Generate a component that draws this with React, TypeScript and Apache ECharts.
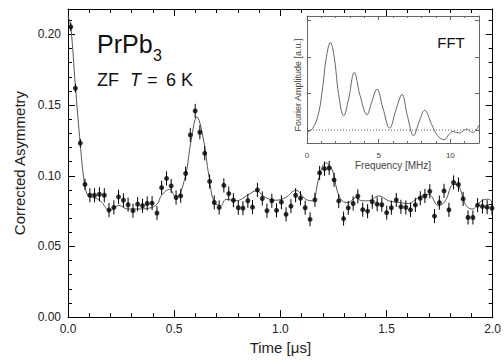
import React, { useEffect, useRef } from "react";
import * as echarts from "echarts";

// Main data: time [μs], corrected asymmetry, error
const times = [
  0.013, 0.035, 0.058, 0.080, 0.103, 0.125, 0.148, 0.171, 0.193, 0.216,
  0.238, 0.261, 0.283, 0.306, 0.328, 0.351, 0.373, 0.396, 0.419, 0.441,
  0.464, 0.486, 0.509, 0.531, 0.554, 0.576, 0.599, 0.621, 0.644, 0.667,
  0.689, 0.712, 0.734, 0.757, 0.779, 0.802, 0.824, 0.847, 0.869, 0.892,
  0.915, 0.937, 0.960, 0.982, 1.005, 1.027, 1.050, 1.072, 1.095, 1.117,
  1.140, 1.163, 1.185, 1.208, 1.230, 1.253, 1.275, 1.298, 1.320, 1.343,
  1.365, 1.388, 1.411, 1.433, 1.456, 1.478, 1.501, 1.523, 1.546, 1.568,
  1.591, 1.613, 1.636, 1.659, 1.681, 1.704, 1.726, 1.749, 1.771, 1.794,
  1.816, 1.839, 1.861, 1.884, 1.907, 1.929, 1.952, 1.974, 1.997,
];
const asymmetry = [
  0.2054, 0.1619, 0.1231, 0.0939, 0.0862, 0.0862, 0.0869, 0.0862, 0.0757, 0.0776,
  0.0851, 0.0827, 0.0795, 0.0753, 0.0799, 0.0788, 0.0804, 0.0806, 0.0736, 0.0916,
  0.0981, 0.0928, 0.0846, 0.0858, 0.1016, 0.1289, 0.1459, 0.1308, 0.1159, 0.0960,
  0.0811, 0.0776, 0.0932, 0.0874, 0.0827, 0.0774, 0.0771, 0.0823, 0.0778, 0.0900,
  0.0839, 0.0753, 0.0823, 0.0755, 0.0813, 0.0727, 0.0785, 0.0862, 0.0841, 0.0774,
  0.0692, 0.0830, 0.1020, 0.1050, 0.1055, 0.0971, 0.0822, 0.0697, 0.0773, 0.0804,
  0.0855, 0.0760, 0.0750, 0.0816, 0.0799, 0.0795, 0.0739, 0.0774, 0.0829, 0.0780,
  0.0776, 0.0759, 0.0794, 0.0841, 0.0857, 0.0890, 0.0715, 0.0810, 0.0893, 0.0759,
  0.0953, 0.0938, 0.0836, 0.0705, 0.0705, 0.0792, 0.0783, 0.0778, 0.0771,
];
const errors = [
  0.003, 0.003, 0.003, 0.004, 0.005, 0.005, 0.005, 0.005, 0.005, 0.005,
  0.005, 0.005, 0.005, 0.005, 0.005, 0.005, 0.005, 0.005, 0.005, 0.005,
  0.005, 0.005, 0.005, 0.005, 0.005, 0.005, 0.005, 0.005, 0.005, 0.005,
  0.005, 0.005, 0.005, 0.005, 0.005, 0.005, 0.005, 0.005, 0.005, 0.005,
  0.005, 0.005, 0.005, 0.005, 0.005, 0.005, 0.005, 0.005, 0.005, 0.005,
  0.005, 0.005, 0.005, 0.005, 0.005, 0.005, 0.005, 0.005, 0.005, 0.005,
  0.005, 0.005, 0.005, 0.005, 0.005, 0.005, 0.005, 0.005, 0.005, 0.005,
  0.005, 0.005, 0.005, 0.005, 0.005, 0.005, 0.005, 0.005, 0.005, 0.005,
  0.005, 0.005, 0.005, 0.005, 0.005, 0.005, 0.005, 0.005, 0.005,
];

// Fit curve
const fitTimes = [
  0.0, 0.013, 0.035, 0.058, 0.075, 0.09, 0.11, 0.14, 0.16, 0.195,
  0.24, 0.28, 0.33, 0.38, 0.42, 0.44, 0.478, 0.509, 0.55, 0.58,
  0.607, 0.635, 0.665, 0.689, 0.72, 0.744, 0.79, 0.853, 0.885, 0.931,
  0.978, 1.025, 1.072, 1.119, 1.15, 1.182, 1.213, 1.244, 1.268, 1.291,
  1.322, 1.354, 1.385, 1.416, 1.463, 1.51, 1.557, 1.604, 1.651, 1.698,
  1.745, 1.777, 1.815, 1.839, 1.871, 1.902, 1.948, 1.98, 2.0,
];
const fitValues = [
  0.213, 0.2055, 0.163, 0.122, 0.097, 0.087, 0.085, 0.0835, 0.081, 0.0755,
  0.079, 0.0765, 0.0765, 0.077, 0.080, 0.086, 0.0904, 0.0846, 0.098, 0.125,
  0.1417, 0.128, 0.0986, 0.0811, 0.079, 0.0834, 0.0823, 0.0869, 0.0893, 0.0846,
  0.0827, 0.0846, 0.0897, 0.0834, 0.0823, 0.0986, 0.1091, 0.1044, 0.0893, 0.0823,
  0.0811, 0.0846, 0.0823, 0.0823, 0.0858, 0.0823, 0.0811, 0.0804, 0.0846, 0.0869,
  0.0788, 0.0823, 0.0939, 0.0930, 0.0799, 0.0764, 0.0823, 0.0834, 0.081,
];

// Inset FFT
const fftFreq = [
  0.0, 0.4, 0.8, 1.1, 1.35, 1.63, 1.9, 2.2, 2.56, 2.9,
  3.3, 3.7, 4.19, 4.5, 4.88, 5.3, 5.77, 6.2, 6.63, 7.0,
  7.44, 7.8, 8.21, 8.7, 9.1, 9.58, 9.9, 10.19, 10.45, 10.65,
  10.9, 11.16, 11.4, 11.56, 11.8, 12.0,
];
const fftAmp = [
  -0.06, 0.05, 0.45, 1.2, 2.0, 2.4, 2.0, 1.0, 0.39, 0.85,
  1.58, 0.95, 0.42, 0.75, 1.12, 0.6, 0.05, 0.55, 0.98, 0.4,
  -0.155, 0.2, 0.54, 0.15, -0.15, -0.264, -0.12, -0.036, -0.07, -0.08,
  -0.02, 0.027, -0.04, -0.064, 0.0, 0.137,
];
const fftBaseline = [
  [0, 0],
  [12, 0],
];

const FONT = "'Liberation Sans', Arial, sans-serif";

export default function App() {
  const ref = useRef<HTMLDivElement>(null);
  useEffect(() => {
    if (!ref.current) return;
    const chart = echarts.init(ref.current, null, { renderer: "svg" });

    const mainX = (pos: "bottom" | "top", labels: boolean) => ({
      gridIndex: 0,
      type: "value",
      position: pos,
      min: 0,
      max: 2,
      interval: 0.5,
      axisLine: { show: true, onZero: false, lineStyle: { color: "#000", width: 1 } },
      axisTick: { show: true, inside: true, length: 7, lineStyle: { color: "#000" } },
      minorTick: { show: true, splitNumber: 5, length: 4, lineStyle: { color: "#000" } },
      splitLine: { show: false },
      axisLabel: {
        show: labels,
        margin: 6,
        fontSize: 12,
        fontFamily: FONT,
        color: "#222",
        formatter: (v: number) => v.toFixed(1),
      },
      name: labels ? "Time [μs]" : "",
      nameLocation: "middle",
      nameGap: 22,
      nameTextStyle: { fontSize: 15, fontFamily: FONT, color: "#222" },
    });
    const mainY = (pos: "left" | "right", labels: boolean) => ({
      gridIndex: 0,
      type: "value",
      position: pos,
      min: 0,
      max: 0.218,
      interval: 0.05,
      axisLine: { show: true, onZero: false, lineStyle: { color: "#000", width: 1 } },
      axisTick: { show: true, inside: true, length: 7, lineStyle: { color: "#000" } },
      minorTick: { show: true, splitNumber: 5, length: 4, lineStyle: { color: "#000" } },
      splitLine: { show: false },
      axisLabel: {
        show: labels,
        showMaxLabel: false,
        margin: 7,
        fontSize: 12,
        fontFamily: FONT,
        color: "#222",
        formatter: (v: number) => v.toFixed(2),
      },
      name: labels ? "Corrected Asymmetry" : "",
      nameLocation: "middle",
      nameGap: 40,
      nameTextStyle: { fontSize: 15, fontFamily: FONT, color: "#222" },
    });
    const insetX = (pos: "bottom" | "top", labels: boolean) => ({
      gridIndex: 1,
      type: "value",
      position: pos,
      min: 0,
      max: 12,
      interval: 5,
      axisLine: { show: true, onZero: false, lineStyle: { color: "#666", width: 1 } },
      axisTick: { show: true, inside: true, length: 4, lineStyle: { color: "#666" } },
      minorTick: { show: true, splitNumber: 5, length: 2, lineStyle: { color: "#666" } },
      splitLine: { show: false },
      axisLabel: {
        show: labels,
        showMaxLabel: false,
        margin: 8,
        fontSize: 8,
        fontFamily: FONT,
        color: "#444",
      },
      name: labels ? "Frequency [MHz]" : "",
      nameLocation: "middle",
      nameGap: 17,
      nameTextStyle: { fontSize: 10, fontFamily: FONT, color: "#444" },
    });
    const insetY = (pos: "left" | "right") => ({
      gridIndex: 1,
      type: "value",
      position: pos,
      min: -0.355,
      max: 3.13,
      axisLine: { show: true, onZero: false, lineStyle: { color: "#666", width: 1 } },
      axisTick: {
        show: true,
        inside: true,
        length: 4,
        customValues: [0, 1, 2, 3],
        lineStyle: { color: "#666" },
      },
      splitLine: { show: false },
      axisLabel: { show: false },
    });

    const errorData = times.map((t, i) => [t, asymmetry[i], errors[i]]);

    chart.setOption({
      animation: false,
      backgroundColor: "#fff",
      grid: [
        { left: 68, right: 10, top: 9, bottom: 39 },
        { left: 307, top: 16, width: 172, height: 127 },
      ],
      xAxis: [mainX("bottom", true), mainX("top", false), insetX("bottom", true), insetX("top", false)],
      yAxis: [mainY("left", true), mainY("right", false), insetY("left"), insetY("right")],
      series: [
        {
          type: "line",
          xAxisIndex: 0,
          yAxisIndex: 0,
          data: fitTimes.map((t, i) => [t, fitValues[i]]),
          smooth: 0.4,
          showSymbol: false,
          lineStyle: { color: "#555", width: 1 },
          z: 2,
        },
        {
          type: "custom",
          xAxisIndex: 0,
          yAxisIndex: 0,
          data: errorData,
          renderItem: (_p: any, api: any) => {
            const x = api.value(0);
            const y = api.value(1);
            const e = api.value(2);
            const a = api.coord([x, y + e]);
            const b = api.coord([x, y - e]);
            return {
              type: "line",
              shape: { x1: a[0], y1: a[1], x2: b[0], y2: b[1] },
              style: { stroke: "#000", lineWidth: 1 },
            };
          },
          z: 3,
        },
        {
          type: "scatter",
          xAxisIndex: 0,
          yAxisIndex: 0,
          data: times.map((t, i) => [t, asymmetry[i]]),
          symbol: "circle",
          symbolSize: 5,
          itemStyle: { color: "#000" },
          z: 4,
        },
        {
          type: "line",
          xAxisIndex: 2,
          yAxisIndex: 2,
          data: fftBaseline,
          showSymbol: false,
          lineStyle: { color: "#666", width: 1, type: [1, 2] },
        },
        {
          type: "line",
          xAxisIndex: 2,
          yAxisIndex: 2,
          data: fftFreq.map((f, i) => [f, fftAmp[i]]),
          smooth: 0.4,
          showSymbol: false,
          lineStyle: { color: "#666", width: 1 },
        },
      ],
      graphic: [
        {
          type: "text",
          x: 97,
          y: 44,
          style: { text: "PrPb", fontSize: 25, fontFamily: FONT, fill: "#111", verticalAlign: "middle" },
        },
        {
          type: "text",
          x: 153,
          y: 55,
          style: { text: "3", fontSize: 16, fontFamily: FONT, fill: "#111", verticalAlign: "middle" },
        },
        {
          type: "text",
          x: 97,
          y: 79.5,
          style: { text: "ZF", fontSize: 18, fontFamily: FONT, fill: "#111", verticalAlign: "middle" },
        },
        {
          type: "text",
          x: 130,
          y: 79.5,
          style: {
            text: "T",
            fontSize: 18,
            fontStyle: "italic",
            fontFamily: FONT,
            fill: "#111",
            verticalAlign: "middle",
          },
        },
        {
          type: "text",
          x: 147,
          y: 79.5,
          style: { text: "=", fontSize: 18, fontFamily: FONT, fill: "#111", verticalAlign: "middle" },
        },
        {
          type: "text",
          x: 166,
          y: 79.5,
          style: { text: "6 K", fontSize: 18, fontFamily: FONT, fill: "#111", verticalAlign: "middle" },
        },
        {
          type: "text",
          x: 451,
          y: 42,
          style: {
            text: "FFT",
            fontSize: 15,
            fontFamily: FONT,
            fill: "#111",
            align: "center",
            verticalAlign: "middle",
          },
        },
        {
          type: "text",
          x: 298,
          y: 85,
          rotation: Math.PI / 2,
          style: {
            text: "Fourier Amplitude [a.u.]",
            fontSize: 9,
            fontFamily: FONT,
            fill: "#444",
            align: "center",
            verticalAlign: "middle",
          },
        },
      ],
    });
    return () => chart.dispose();
  }, []);

  return (
    <div
      ref={ref}
      style={{ position: "absolute", left: 0, top: 0, width: 504, height: 360, background: "#fff" }}
    />
  );
}
